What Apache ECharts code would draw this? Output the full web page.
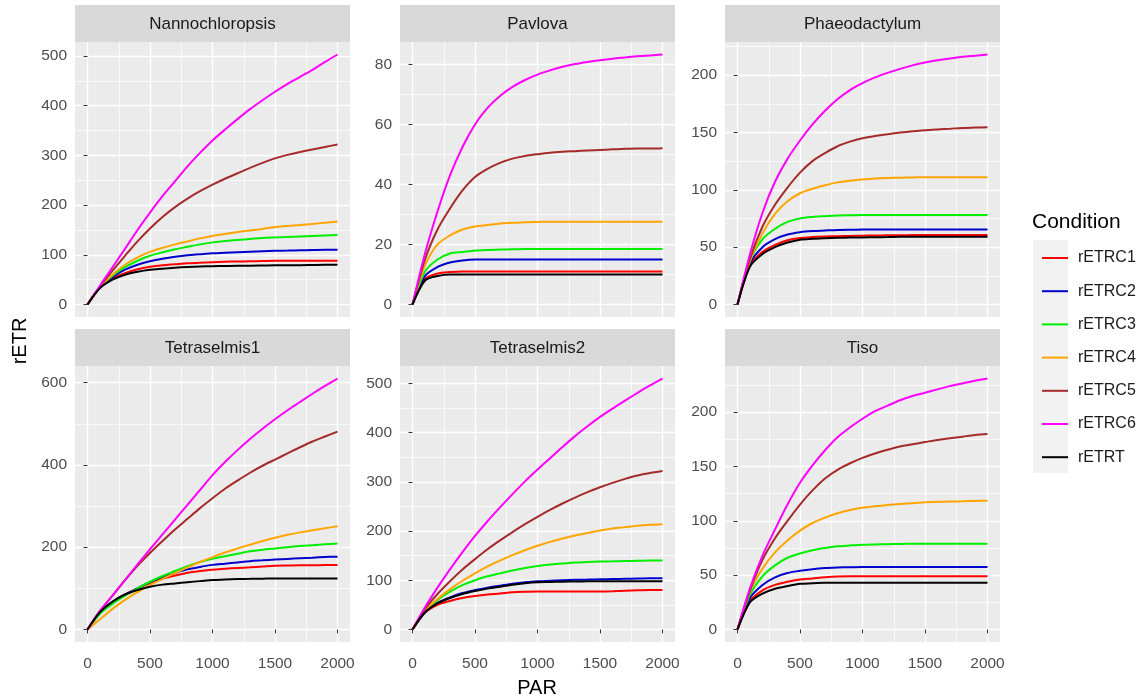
<!DOCTYPE html>
<html><head><meta charset="utf-8">
<script src="https://cdn.jsdelivr.net/npm/echarts@6/dist/echarts.min.js"></script>
<style>html,body{margin:0;padding:0;background:#fff}#c{width:1142px;height:699px}</style>
</head><body><div id="c"></div>
<script>
// ---------- data ----------
const PAR = [0, 100, 200, 300, 400, 500, 600, 700, 800, 900, 1000, 1100, 1200, 1300, 1400, 1500, 1600, 1700, 1800, 1900, 2000];
const conditions = ['rETRC1', 'rETRC2', 'rETRC3', 'rETRC4', 'rETRC5', 'rETRC6', 'rETRT'];
const panelNames = ['Nannochloropsis', 'Pavlova', 'Phaeodactylum', 'Tetraselmis1', 'Tetraselmis2', 'Tiso'];

// rows follow the order of `conditions`
const nannochloropsis = [
  [0, 34, 52, 63, 71, 76, 79, 81, 83, 84, 85, 86, 86.5, 87, 87.5, 88, 88, 88, 88, 88, 88],
  [0, 35, 55, 70, 80, 87, 92, 96, 99, 101, 103, 104, 105, 106, 107, 108, 108.5, 109, 109.5, 110, 110],
  [0, 35, 58, 75, 88, 98, 105, 111, 116, 121, 125, 128, 130, 132, 134, 135, 136, 137, 138, 139, 140],
  [0, 35, 60, 80, 95, 106, 114, 121, 127, 133, 138, 142, 146, 149, 152, 156, 158, 160, 162, 164.5, 167],
  [0, 36, 68, 98, 127, 153, 176, 196, 213, 228, 241, 253, 264, 275, 285, 294, 301, 307, 312, 317, 322],
  [0, 38, 75, 112, 150, 185, 218, 248, 278, 305, 330, 352, 373, 393, 411, 428, 444, 458, 472, 488, 503],
  [0, 33, 50, 60, 66, 70, 72, 74, 75.5, 76.5, 77, 77.5, 78, 78, 78.5, 79, 79, 79, 79.5, 80, 80]
];
const pavlova = [
  [0, 8.5, 10.3, 10.8, 11, 11, 11, 11, 11, 11, 11, 11, 11, 11, 11, 11, 11, 11, 11, 11, 11],
  [0, 9.5, 12.5, 14, 14.7, 15, 15, 15, 15, 15, 15, 15, 15, 15, 15, 15, 15, 15, 15, 15, 15],
  [0, 11, 15, 17, 17.5, 18, 18.2, 18.3, 18.4, 18.5, 18.5, 18.5, 18.5, 18.5, 18.5, 18.5, 18.5, 18.5, 18.5, 18.5, 18.5],
  [0, 13, 20, 23, 25, 26, 26.5, 27, 27.2, 27.4, 27.5, 27.6, 27.6, 27.6, 27.6, 27.6, 27.6, 27.6, 27.6, 27.6, 27.6],
  [0, 15, 25, 32, 38, 42.5, 45.2, 47.2, 48.6, 49.5, 50.1, 50.6, 50.9, 51.1, 51.3, 51.5, 51.7, 51.9, 52, 52, 52.1],
  [0, 17, 31, 43, 52.5, 60, 65.5, 69.5, 72.5, 74.8, 76.6, 78, 79.2, 80.1, 80.8, 81.4, 81.9, 82.3, 82.7, 83, 83.3],
  [0, 8, 9.5, 10, 10, 10, 10, 10, 10, 10, 10, 10, 10, 10, 10, 10, 10, 10, 10, 10, 10]
];
const phaeodactylum = [
  [0, 34, 46, 52, 56, 58, 58.8, 59.3, 59.6, 59.8, 60, 60.2, 60.3, 60.4, 60.5, 60.5, 60.5, 60.5, 60.5, 60.5, 60.5],
  [0, 36, 50, 57, 61, 63, 64, 64.5, 65, 65.2, 65.3, 65.4, 65.5, 65.5, 65.5, 65.5, 65.5, 65.5, 65.5, 65.5, 65.5],
  [0, 38, 57, 66, 72, 75, 76.3, 77, 77.6, 77.8, 78, 78, 78, 78, 78, 78, 78, 78, 78, 78, 78],
  [0, 38, 62, 79, 90, 97, 101, 104, 106.5, 108, 109, 109.8, 110.3, 110.6, 110.8, 111, 111, 111, 111, 111, 111],
  [0, 40, 68, 87, 102, 115, 125, 132, 138, 142, 145, 147, 148.5, 150, 151, 152, 152.7, 153.3, 154, 154.3, 154.6],
  [0, 44, 80, 107, 127, 143, 157, 169, 179, 187, 193, 198, 202, 205.5, 208.5, 211, 213, 214.5, 216, 217, 218],
  [0, 33, 44, 50, 54, 56.5, 57.3, 57.8, 58.2, 58.5, 58.5, 58.7, 58.8, 59, 59, 59, 59, 59, 59, 59, 59]
];
const tetraselmis1 = [
  [0, 41, 66, 85, 100, 113, 123, 131, 138, 142, 145, 147.5, 149.5, 151, 153, 155, 155.5, 156, 156, 156.5, 156.5],
  [0, 40, 65, 84, 100, 115, 127, 137, 146, 152, 157, 160, 163, 166, 168, 170, 171.5, 173, 174.5, 176, 177],
  [0, 38, 62, 82, 100, 116, 130, 142, 154, 164, 172, 178, 184, 190, 194, 197, 200, 203, 205, 207, 209],
  [0, 25, 50, 72, 91, 108, 123, 137, 151, 164, 176, 187, 197, 206, 215, 223, 230, 236, 241, 246, 251],
  [0, 45, 82, 120, 155, 186, 215, 243, 269, 295, 319, 342, 362, 381, 398, 413, 428, 443, 457, 469, 481],
  [0, 45, 82, 120, 158, 195, 231, 267, 303, 339, 375, 407, 436, 463, 488, 511, 533, 553, 573, 592, 610],
  [0, 42, 68, 85, 96, 104, 109, 112, 115, 117.5, 120, 121.5, 122.5, 123, 123.5, 124, 124, 124, 124, 124, 124]
];
const tetraselmis2 = [
  [0, 34, 50, 58, 64, 68, 71, 73, 75.5, 76.5, 77, 77, 77, 77, 77, 77, 77.5, 78.5, 79.5, 80, 80],
  [0, 35, 54, 65, 74, 80, 85, 89, 93, 96, 98, 99, 100, 101, 101.5, 102, 102.5, 103, 103.5, 104, 104],
  [0, 36, 60, 77, 90, 100, 108, 114, 120, 125, 129, 132, 134, 136, 137, 138, 138.5, 139, 139.5, 140, 140],
  [0, 38, 62, 82, 99, 114, 128, 140, 151, 161, 170, 178, 185, 191, 196, 201, 205, 208, 211, 213, 214],
  [0, 42, 72, 98, 122, 143, 163, 181, 198, 214, 229, 243, 256, 268, 279, 289, 298, 306, 313, 318, 322],
  [0, 45, 85, 122, 157, 190, 220, 248, 275, 301, 325, 348, 371, 393, 413, 432, 449, 465, 481, 496, 510],
  [0, 35, 53, 64, 72, 78, 83, 87, 91, 94, 96, 96.5, 97, 97.5, 97.8, 98, 98, 98, 98, 98, 98]
];
const tiso = [
  [0, 26, 36, 41, 44, 46, 47, 48, 48.7, 49, 49, 49, 49, 49, 49, 49, 49, 49, 49, 49, 49],
  [0, 29, 41, 48, 52, 54, 55.5, 56.5, 57, 57.3, 57.5, 57.5, 57.5, 57.5, 57.5, 57.5, 57.5, 57.5, 57.5, 57.5, 57.5],
  [0, 32, 49, 59, 66, 70, 73, 75, 76.5, 77.3, 78, 78.3, 78.5, 78.7, 78.9, 79, 79, 79, 79, 79, 79],
  [0, 35, 56, 71, 82, 91, 98, 103, 107, 110, 112, 113.5, 114.5, 115.5, 116.3, 117, 117.5, 117.8, 118, 118.3, 118.5],
  [0, 36, 64, 84, 100, 115, 128, 139, 147, 153, 158, 162, 165.5, 168.5, 170.5, 172.5, 174.5, 176, 177.5, 179, 180],
  [0, 38, 68, 92, 115, 135, 151, 165, 177, 186, 194, 201, 206, 211, 215, 218, 221, 224, 226.5, 229, 231],
  [0, 25, 33, 37.5, 40, 42, 42.5, 43, 43, 43, 43, 43, 43, 43, 43, 43, 43, 43, 43, 43, 43]
];

const xTicks = [0, 500, 1000, 1500, 2000];
const yTicksNanno = [0, 100, 200, 300, 400, 500];
const yTicksPavlova = [0, 20, 40, 60, 80];
const yTicksPhaeo = [0, 50, 100, 150, 200];
const yTicksTetra1 = [0, 200, 400, 600];
const yTicksTetra2 = [0, 100, 200, 300, 400, 500];
const yTicksTiso = [0, 50, 100, 150, 200];

// ---------- build ----------
const panelData = [nannochloropsis, pavlova, phaeodactylum, tetraselmis1, tetraselmis2, tiso];
const panelYTicks = [yTicksNanno, yTicksPavlova, yTicksPhaeo, yTicksTetra1, yTicksTetra2, yTicksTiso];
const colors = ['#FF0000', '#0000CD', '#00EE00', '#FFA500', '#A52A2A', '#FF00FF', '#000000'];
const FONT = '"Liberation Sans", Arial, sans-serif';

const colLeft = [75, 400, 725];
const rowTop = [42, 366];
const rowH = [275, 276];
const W = 275, STRIP = 37;

function minorsOf(ticks, lo, hi) {
  const step = ticks[1] - ticks[0];
  const out = [];
  for (let k = -1; k < ticks.length; k++) {
    const v = ticks[0] + step * (k + 0.5);
    if (v > lo && v < hi) out.push(v);
  }
  return out;
}

const parMin = Math.min(...PAR), parMax = Math.max(...PAR);
const xMin = parMin - 0.05 * (parMax - parMin), xMax = parMax + 0.05 * (parMax - parMin);
const xMinor = minorsOf(xTicks, xMin, xMax);
const plain = v => String(v);

const grid = [], xAxis = [], yAxis = [], series = [], graphic = [];

panelData.forEach((rows, i) => {
  const r = Math.floor(i / 3), c = i % 3;
  const left = colLeft[c], top = rowTop[r], h = rowH[r];
  grid.push({ left, top, width: W, height: h, show: true, backgroundColor: '#EBEBEB', borderWidth: 0 });

  let hiV = -Infinity, loV = Infinity;
  rows.forEach(row => row.forEach(v => { hiV = Math.max(hiV, v); loV = Math.min(loV, v); }));
  const yMin = loV - 0.05 * (hiV - loV), yMax = hiV + 0.05 * (hiV - loV);
  const yT = panelYTicks[i];
  const yMinor = minorsOf(yT, yMin, yMax);
  const bottom = r === 1;

  xAxis.push({
    gridIndex: i, type: 'value', min: xMin, max: xMax, position: 'bottom',
    axisLine: { show: false },
    axisTick: { show: bottom, length: 4, lineStyle: { color: '#333333', width: 1 }, customValues: xTicks },
    axisLabel: { show: bottom, customValues: xTicks, formatter: plain, color: '#4D4D4D', fontSize: 15.5, margin: 14, fontFamily: FONT },
    splitLine: { show: true, lineStyle: { color: '#FFFFFF', width: 1.4 } },
    z: 3
  });
  xAxis.push({
    gridIndex: i, type: 'value', min: xMin, max: xMax, position: 'top',
    axisLine: { show: false },
    axisTick: { show: false, customValues: xMinor },
    axisLabel: { show: false, customValues: xMinor },
    splitLine: { show: true, lineStyle: { color: '#FFFFFF', width: 0.7 } },
    z: 2
  });
  yAxis.push({
    gridIndex: i, type: 'value', min: yMin, max: yMax, position: 'left',
    axisLine: { show: false },
    axisTick: { show: true, length: 4, lineStyle: { color: '#333333', width: 1 }, customValues: yT },
    axisLabel: { show: true, customValues: yT, formatter: plain, color: '#4D4D4D', fontSize: 15.5, margin: 8, fontFamily: FONT },
    splitLine: { show: true, lineStyle: { color: '#FFFFFF', width: 1.4 } },
    z: 3
  });
  yAxis.push({
    gridIndex: i, type: 'value', min: yMin, max: yMax, position: 'right',
    axisLine: { show: false },
    axisTick: { show: false, customValues: yMinor },
    axisLabel: { show: false, customValues: yMinor },
    splitLine: { show: true, lineStyle: { color: '#FFFFFF', width: 0.7 } },
    z: 2
  });

  rows.forEach((vals, j) => {
    series.push({
      type: 'line', name: conditions[j],
      xAxisIndex: 2 * i, yAxisIndex: 2 * i,
      data: PAR.map((p, k) => [p, vals[k]]),
      showSymbol: false, symbol: 'none',
      smooth: 0.3,
      lineStyle: { width: 2, color: colors[j] },
      itemStyle: { color: colors[j] },
      silent: true, z: 5
    });
  });

  // facet strip
  graphic.push({
    type: 'group', left: left, top: top - STRIP,
    children: [
      { type: 'rect', shape: { x: 0, y: 0, width: W, height: STRIP }, style: { fill: '#D9D9D9' } },
      { type: 'text', x: W / 2, y: STRIP / 2 + 1, style: { text: panelNames[i], fill: '#1A1A1A', font: '17px ' + FONT, textAlign: 'center', textVerticalAlign: 'middle' } }
    ]
  });
});

// axis titles & legend extras
graphic.push({ type: 'text', x: 537, y: 688, style: { text: 'PAR', fill: '#000000', font: '20px ' + FONT, textAlign: 'center', textVerticalAlign: 'middle' } });
graphic.push({ type: 'text', x: 20, y: 341, rotation: Math.PI / 2, style: { text: 'rETR', fill: '#000000', font: '20px ' + FONT, textAlign: 'center', textVerticalAlign: 'middle' } });
graphic.push({ type: 'text', x: 1032, y: 222, style: { text: 'Condition', fill: '#000000', font: '21px ' + FONT, textAlign: 'left', textVerticalAlign: 'middle' } });
graphic.push({ type: 'rect', shape: { x: 1033, y: 240, width: 35, height: 233 }, style: { fill: '#F2F2F2' }, z: -1 });

const chart = echarts.init(document.getElementById('c'), null, { renderer: 'canvas' });
chart.setOption({
  animation: false,
  backgroundColor: '#FFFFFF',
  textStyle: { fontFamily: FONT },
  grid, xAxis, yAxis, series, graphic,
  legend: {
    data: conditions, orient: 'vertical', left: 1037, top: 243,
    icon: 'rect', itemWidth: 26, itemHeight: 2, itemGap: 13.2,
    selectedMode: false,
    textStyle: { fontSize: 16, color: '#1A1A1A', lineHeight: 20, padding: [0, 0, 0, 5], fontFamily: FONT }
  }
});
</script>
</body></html>
